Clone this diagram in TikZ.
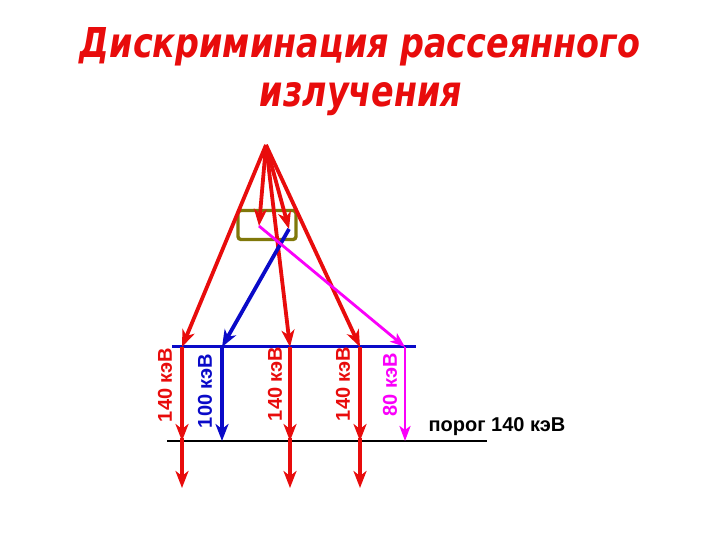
\documentclass[tikz,border=0pt]{standalone}
\usepackage{fontspec}
\setmainfont{Liberation Sans}
\newfontfamily\titlefont{DejaVu Sans}
\usetikzlibrary{arrows.meta}
\definecolor{rred}{RGB}{232,12,12}
\definecolor{bblue}{RGB}{10,10,200}
\definecolor{mmag}{RGB}{250,0,250}
\definecolor{olivebox}{RGB}{128,120,10}
\tikzset{
  ray/.style={line width=3.8pt,-{Stealth[length=17pt,width=13pt,inset=5pt]}},
  redray/.style={ray,draw=rred},
  blueray/.style={ray,draw=bblue},
  magray/.style={line width=2.8pt,draw=mmag,-{Stealth[length=15pt,width=11pt,inset=4pt]}},
  lab/.style={font=\bfseries\fontsize{20}{20}\selectfont,rotate=90,inner sep=0pt},
}
\begin{document}
\begin{tikzpicture}[x=1pt,y=-1pt]
\useasboundingbox (0,0) rectangle (720,540);
% title
\node[text=rred,font=\titlefont\bfseries\itshape,anchor=base,inner sep=0pt] (t1) at (360,58) {\resizebox{560pt}{30pt}{Дискриминация рассеянного}};
\node[text=rred,font=\titlefont\bfseries\itshape,anchor=base,inner sep=0pt] (t2) at (361,107) {\resizebox{202pt}{24pt}{излучения}};
% key points
\coordinate (S) at (266,145);
\coordinate (A1) at (182,347);
\coordinate (A2) at (222,347);
\coordinate (A3) at (290,347);
\coordinate (A4) at (360,347);
\coordinate (A5) at (405,347);
\coordinate (B1) at (182,441);
\coordinate (B2) at (222,441);
\coordinate (B3) at (290,441);
\coordinate (B4) at (360,441);
\coordinate (B5) at (405,441);
\coordinate (C1) at (182,488);
\coordinate (C3) at (290,488);
\coordinate (C4) at (360,488);
\coordinate (P) at (259,226);
\coordinate (Q) at (289,229);
% box
\node[draw=olivebox,line width=3.4pt,rounded corners=3pt,minimum width=58pt,minimum height=29pt] (box) at (267,225) {};
% lines
\draw[bblue,line width=3pt] (172,346) coordinate (L1) -- (416,346) coordinate (L2);
\draw[black,line width=2.4pt] (167,441) coordinate (K1) -- (487,441) coordinate (K2);
% rays from source
\draw[redray] (S) -- (A1);
\draw[redray] (S) -- (P);
\draw[redray] (S) -- (Q);
\draw[redray] (S) -- (A3);
\draw[redray] (S) -- (A4);
\draw[blueray] (Q) -- (A2);
\draw[magray] (P) -- (A5);
% verticals to threshold
\draw[redray] (A1) -- (B1);
\draw[blueray] (A2) -- (B2);
\draw[redray] (A3) -- (B3);
\draw[redray] (A4) -- (B4);
\draw[magray] (A5) -- (B5);
% passed
\draw[redray] ([yshift=3pt]B1) -- (C1);
\draw[redray] ([yshift=3pt]B3) -- (C3);
\draw[redray] ([yshift=3pt]B4) -- (C4);
% labels
\node[lab,text=rred] (l1) at (165,385) {140 кэВ};
\node[lab,text=bblue] (l2) at (205,391) {100 кэВ};
\node[lab,text=rred] (l3) at (275,384) {140 кэВ};
\node[lab,text=rred] (l4) at (343,384) {140 кэВ};
\node[lab,text=mmag] (l5) at (390,385) {80 кэВ};
\node[font=\bfseries\fontsize{20}{20}\selectfont,inner sep=0pt] (thr) at (497,427) {порог 140 кэВ};
\end{tikzpicture}
\end{document}
